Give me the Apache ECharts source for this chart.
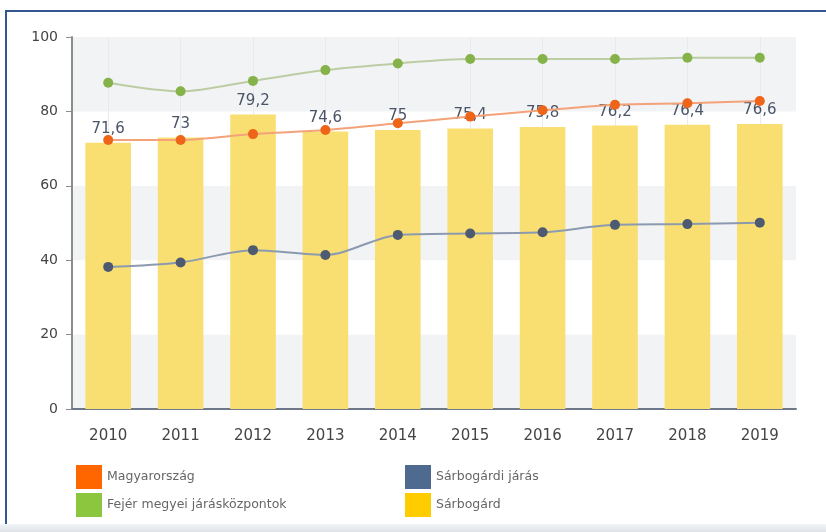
<!DOCTYPE html>
<html>
<head>
<meta charset="utf-8">
<script src="https://cdn.jsdelivr.net/npm/echarts@6/dist/echarts.min.js"></script>
<style>
  html, body { margin: 0; padding: 0; background: #fff; }
  #wrap { position: relative; width: 826px; height: 532px; overflow: hidden; }
  #frame { position: absolute; left: 5px; top: 10px; right: 0; bottom: 0;
           border-top: 2px solid #34578f; border-left: 2px solid #34578f; }
  #strip { position: absolute; left: 0; right: 0; top: 524px; height: 8px;
           background: linear-gradient(#f3f5f7, #dfe3e8); }
  #chart { position: absolute; left: 0; top: 0; width: 826px; height: 532px; }
</style>
</head>
<body>
<div id="wrap">
  <div id="frame"></div>
  <div id="strip"></div>
  <div id="chart"></div>
</div>
<script>
// évek
let years = ['2010', '2011', '2012', '2013', '2014', '2015', '2016', '2017', '2018', '2019'];

// Sárbogárd (oszlop)
let sarbogard = [71.6, 73, 79.2, 74.6, 75, 75.4, 75.8, 76.2, 76.4, 76.6];
// Magyarország
let magyarorszag = [72.3, 72.3, 73.9, 75.0, 76.8, 78.6, 80.3, 81.8, 82.2, 82.8];
// Fejér megyei járásközpontok
let fejer = [87.7, 85.4, 88.2, 91.1, 92.9, 94.1, 94.1, 94.1, 94.4, 94.4];
// Sárbogárdi járás
let jaras = [38.2, 39.4, 42.7, 41.4, 46.8, 47.2, 47.5, 49.5, 49.7, 50.1];

let yTicks = [0, 20, 40, 60, 80, 100];

var chart = echarts.init(document.getElementById('chart'));

let legendText = { color: '#666', fontSize: 12.5, fontFamily: 'DejaVu Sans' };

option = {
    animation: false,
    grid: { left: 72, right: 30, top: 37, bottom: 123 },
    legend: [
        {
            orient: 'vertical',
            left: 71, top: 460,
            icon: 'rect',
            itemWidth: 26, itemHeight: 24, itemGap: 4,
            textStyle: legendText,
            data: [
                { name: 'Magyarország', itemStyle: { color: '#ff6600' } },
                { name: 'Fejér megyei járásközpontok', itemStyle: { color: '#8cc63f' } }
            ]
        },
        {
            orient: 'vertical',
            left: 400, top: 460,
            icon: 'rect',
            itemWidth: 26, itemHeight: 24, itemGap: 4,
            textStyle: legendText,
            data: [
                { name: 'Sárbogárdi járás', itemStyle: { color: '#4e6a8e' } },
                { name: 'Sárbogárd', itemStyle: { color: '#ffcc00' } }
            ]
        }
    ],
    xAxis: {
        type: 'category',
        data: years,
        axisLine: { lineStyle: { color: '#6f7888', width: 2 } },
        axisTick: { alignWithLabel: true, length: 5, lineStyle: { color: '#6f7888' } },
        axisLabel: { color: '#444', fontSize: 15, margin: 20, fontFamily: 'DejaVu Sans' },
        splitLine: { show: true, alignWithLabel: true, lineStyle: { color: '#e8eaee', width: 1 } }
    },
    yAxis: {
        type: 'value',
        min: yTicks[0], max: yTicks[yTicks.length - 1], interval: 20,
        axisLine: { show: true, lineStyle: { color: '#8c8c8c', width: 2 } },
        axisTick: { show: true, length: 6, lineStyle: { color: '#8c8c8c' } },
        axisLabel: { color: '#444', fontSize: 14, margin: 14, fontFamily: 'DejaVu Sans' },
        splitLine: { show: false },
        splitArea: { show: true, areaStyle: { color: ['#f2f3f4', '#ffffff'] } }
    },
    series: [
        {
            name: 'Sárbogárd',
            type: 'bar',
            z: 1,
            data: sarbogard,
            barWidth: '63%',
            itemStyle: { color: '#f9df72' },
            label: {
                show: true,
                position: 'top',
                distance: 6,
                color: '#4a5468',
                fontSize: 15,
                fontFamily: 'DejaVu Sans',
                formatter: function (p) { return String(p.value).replace('.', ','); }
            }
        },
        {
            name: 'Fejér megyei járásközpontok',
            type: 'line',
            z: 3,
            smooth: 0.3,
            data: fejer,
            symbol: 'circle', symbolSize: 10,
            lineStyle: { color: '#bccda4', width: 2 },
            itemStyle: { color: '#86b24a' }
        },
        {
            name: 'Magyarország',
            type: 'line',
            z: 3,
            smooth: 0.3,
            data: magyarorszag,
            symbol: 'circle', symbolSize: 10,
            lineStyle: { color: '#f4a27a', width: 2 },
            itemStyle: { color: '#ee6418' }
        },
        {
            name: 'Sárbogárdi járás',
            type: 'line',
            z: 3,
            smooth: 0.3,
            data: jaras,
            symbol: 'circle', symbolSize: 10,
            lineStyle: { color: '#8c9ab0', width: 2 },
            itemStyle: { color: '#4d5a70' }
        }
    ]
};

chart.setOption(option);
</script>
</body>
</html>
